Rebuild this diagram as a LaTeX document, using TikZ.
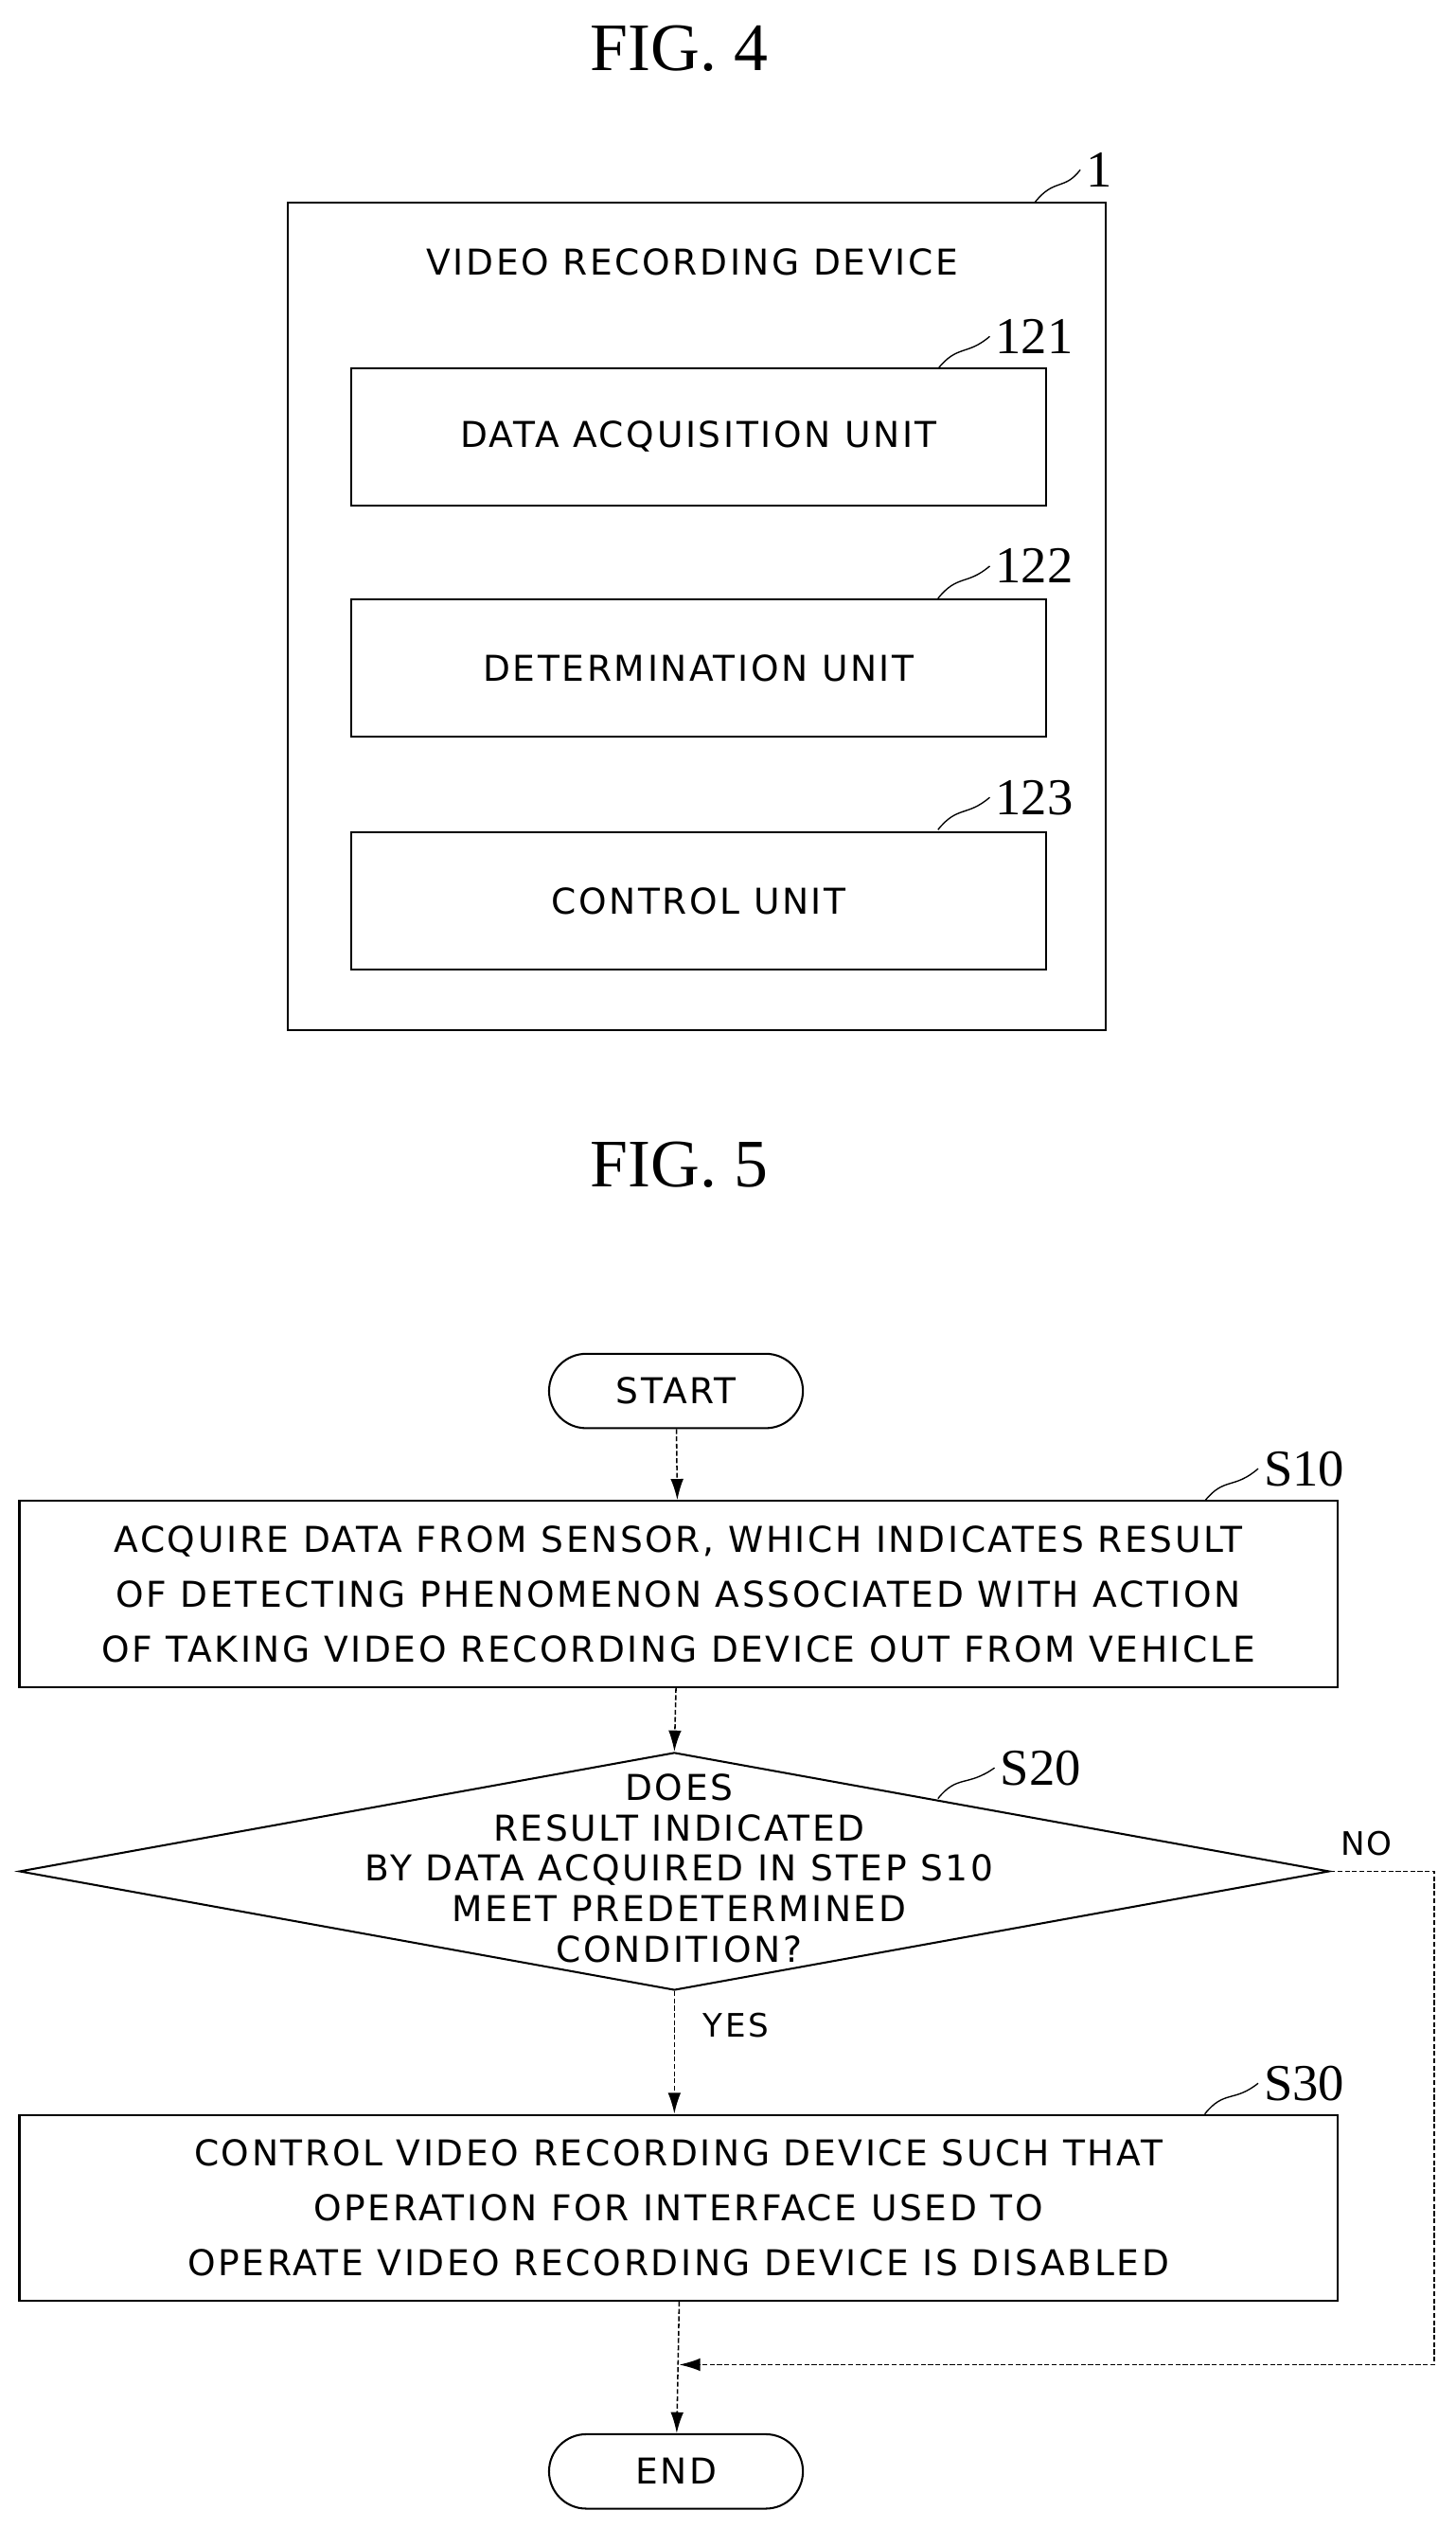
\documentclass[tikz,border=0pt]{standalone}
\usepackage{fontspec}
\setmainfont{Liberation Serif}
\setsansfont{DejaVu Sans}[LetterSpace=7]
\usetikzlibrary{shapes.geometric,arrows.meta,positioning}
\tikzset{
  unit/.style = {draw, line width=1.2pt, minimum width=430pt, minimum height=85pt, font=\sffamily\fontsize{22}{25}\selectfont},
  proc/.style = {draw, line width=1.2pt, minimum width=815pt, minimum height=115pt, align=center, font=\sffamily\fontsize{22}{34}\selectfont},
  term/.style = {draw, line width=1.2pt, rounded corners=23pt, minimum width=157pt, minimum height=46pt, font=\sffamily\fontsize{22}{25}\selectfont},
  tag/.style = {font=\fontsize{32}{32}\selectfont},
  lead/.style = {line width=0.8pt},
  flow/.style = {line width=0.9pt, dash pattern=on 3pt off 1.5pt, -{Latex[length=13pt,width=8pt]}},
  caption/.style = {font=\fontsize{42}{42}\selectfont}
}
\begin{document}
\begin{tikzpicture}[x=1pt, y=-1pt]
  \useasboundingbox (0,0) rectangle (900,1563);

  % FIG. 4
  \node[caption] (fig4) at (420,30) {FIG. 4};
  \draw[line width=1.2pt] (178,125) rectangle (684,637);
  \node[font=\sffamily\fontsize{22}{25}\selectfont] (dev) at (428,162) {VIDEO RECORDING DEVICE};
  \node[tag, anchor=west] (t1) at (668,105) {1};
  \draw[lead] (640,125) .. controls (652,110) and (658,118) .. (t1.west);

  \node[unit] (u121) at (432,270) {DATA ACQUISITION UNIT};
  \node[unit] (u122) at (432,413) {DETERMINATION UNIT};
  \node[unit] (u123) at (432,557) {CONTROL UNIT};
  \foreach \u/\y in {121/208, 122/350, 123/493} {
    \node[tag, anchor=west] (t\u) at (612,\y) {\u};
    \draw[lead] (580,{\y+20}) .. controls (592,{\y+5}) and (598,{\y+12}) .. (t\u.west);
  }

  % FIG. 5
  \node[caption] (fig5) at (420,720) {FIG. 5};
  \node[term] (start) at (418,860) {START};
  \node[proc] (s10) at (419.5,985.5) {ACQUIRE DATA FROM SENSOR, WHICH INDICATES RESULT\\
    OF DETECTING PHENOMENON ASSOCIATED WITH ACTION\\
    OF TAKING VIDEO RECORDING DEVICE OUT FROM VEHICLE};
  \node[draw, line width=1.2pt, diamond, aspect=5.5, minimum width=810pt, minimum height=147pt, inner sep=0pt] (s20) at (417,1157) {};
  \node[align=center, font=\sffamily\fontsize{22}{25}\selectfont] (q) at (420,1155) {DOES\\ RESULT INDICATED\\ BY DATA ACQUIRED IN STEP S10\\ MEET PREDETERMINED\\ CONDITION?};
  \node[proc] (s30) at (419.5,1365) {CONTROL VIDEO RECORDING DEVICE SUCH THAT\\
    OPERATION FOR INTERFACE USED TO\\
    OPERATE VIDEO RECORDING DEVICE IS DISABLED};
  \node[term] (end) at (418,1528) {END};

  \node[tag, anchor=west] (t10) at (778,908) {S10};
  \draw[lead] (745,928) .. controls (757,913) and (763,921) .. (t10.west);
  \node[tag, anchor=west] (t20) at (615,1093) {S20};
  \draw[lead] (580,1112) .. controls (592,1097) and (598,1105) .. (t20.west);
  \node[tag, anchor=west] (t30) at (778,1288) {S30};
  \draw[lead] (745,1307) .. controls (757,1292) and (763,1300) .. (t30.west);

  \node[font=\sffamily\fontsize{20}{22}\selectfont] (no) at (845,1140) {NO};
  \node[font=\sffamily\fontsize{20}{22}\selectfont] (yes) at (455,1252) {YES};

  \coordinate (join) at (420,1462);
  \coordinate (rt) at (887,1462);
  \draw[flow] (start) -- (s10);
  \draw[flow] (s10.south -| start) -- (s20.north);
  \draw[flow] (s20.south) -- (s30.north -| s20.south);
  \draw[flow] (s20.east) -| (rt) -- (join);
  \draw[flow] (s30.south -| join) -- (end);
\end{tikzpicture}
\end{document}
